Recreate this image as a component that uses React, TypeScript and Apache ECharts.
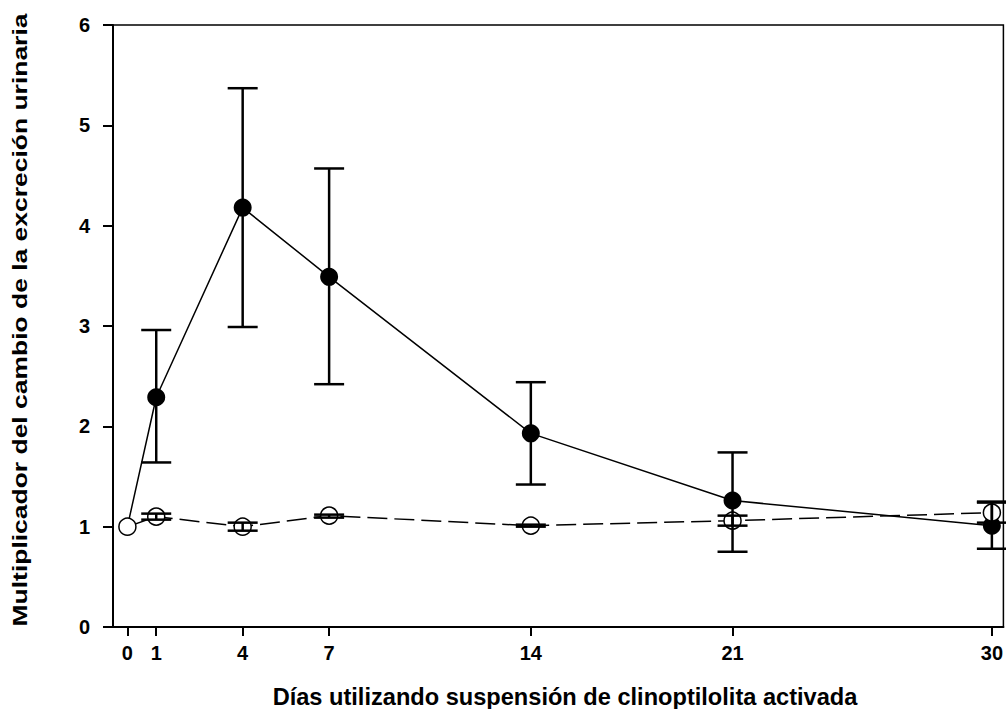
import React, { useEffect, useRef } from "react";
import * as echarts from "echarts";

const days = [0, 1, 4, 7, 14, 21, 30];
const treatedMean = [1.0, 2.29, 4.18, 3.49, 1.93, 1.26, 1.01];
const treatedLow = [1.0, 1.64, 2.99, 2.42, 1.42, 0.75, 0.78];
const treatedHigh = [1.0, 2.96, 5.37, 4.57, 2.44, 1.74, 1.25];
const controlMean = [1.0, 1.1, 1.0, 1.11, 1.01, 1.06, 1.14];
const controlLow = [1.0, 1.07, 0.96, 1.09, 1.0, 1.01, 1.04];
const controlHigh = [1.0, 1.13, 1.04, 1.12, 1.02, 1.11, 1.24];
const xTicks = [0, 1, 4, 7, 14, 21, 30];
const xTitle = "Días utilizando suspensión de clinoptilolita activada";
const yTitle = "Multiplicador del cambio de la excreción urinaria";

const FONT = "'Liberation Sans', Arial, sans-serif";

function errRender(params: any, api: any) {
  const x = api.value(0);
  const lo = api.coord([x, api.value(1)]);
  const hi = api.coord([x, api.value(2)]);
  if (Math.abs(lo[1] - hi[1]) < 0.5) return { type: "group", children: [] };
  const hw = 15;
  const style = { stroke: "#000", lineWidth: 2.5 };
  return {
    type: "group",
    children: [
      { type: "line", shape: { x1: lo[0], y1: lo[1], x2: hi[0], y2: hi[1] }, style },
      { type: "line", shape: { x1: lo[0] - hw, y1: lo[1], x2: lo[0] + hw, y2: lo[1] }, style },
      { type: "line", shape: { x1: hi[0] - hw, y1: hi[1], x2: hi[0] + hw, y2: hi[1] }, style },
    ],
  };
}

export default function App() {
  const ref = useRef<HTMLDivElement>(null);
  useEffect(() => {
    const chart = echarts.init(ref.current!, null, { renderer: "svg" });
    const treatedData = days.map((d, i) =>
      i === 0 ? { value: [d, treatedMean[i]], symbolSize: 0 } : [d, treatedMean[i]]
    );
    chart.setOption({
      animation: false,
      backgroundColor: "#fff",
      grid: {
        left: 113,
        right: 2,
        top: 25,
        bottom: 82,
        show: true,
        borderColor: "#000",
        borderWidth: 1.5,
        backgroundColor: "transparent",
      },
      graphic: [
        {
          type: "text",
          x: 565,
          y: 697,
          style: {
            text: xTitle,
            fontFamily: FONT,
            fontWeight: "bold",
            fontSize: 23.6,
            fill: "#000",
            align: "center",
            verticalAlign: "middle",
          },
        },
        {
          type: "text",
          x: 20,
          y: 320,
          rotation: Math.PI / 2,
          scaleX: 1.26,
          style: {
            text: yTitle,
            fontFamily: FONT,
            fontWeight: "bold",
            fontSize: 21,
            fill: "#000",
            align: "center",
            verticalAlign: "middle",
          },
        },
      ],
      xAxis: {
        type: "value",
        min: -0.5,
        max: 30.4,
        axisLine: { show: true, onZero: false, lineStyle: { color: "#000", width: 2 } },
        axisTick: { show: true, customValues: xTicks, length: 9, inside: false, lineStyle: { color: "#000", width: 2 } },
        axisLabel: { customValues: xTicks, fontFamily: FONT, fontSize: 20, fontWeight: "bold", color: "#000", margin: 16 },
        splitLine: { show: false },
      },
      yAxis: {
        type: "value",
        min: 0,
        max: 6,
        interval: 1,
        axisLine: { show: true, onZero: false, lineStyle: { color: "#000", width: 2 } },
        axisTick: { show: true, length: 10, lineStyle: { color: "#000", width: 2 } },
        axisLabel: { fontFamily: FONT, fontSize: 20, fontWeight: "bold", color: "#000", margin: 23 },
        splitLine: { show: false },
      },
      series: [
        {
          type: "line",
          name: "treated",
          data: treatedData,
          symbol: "circle",
          symbolSize: 18,
          itemStyle: { color: "#000" },
          lineStyle: { color: "#000", width: 1.5 },
          z: 2,
        },
        {
          type: "line",
          name: "control",
          data: days.map((d, i) => [d, controlMean[i]]),
          symbol: "circle",
          symbolSize: 17,
          itemStyle: { color: "#fff", borderColor: "#000", borderWidth: 1.5 },
          lineStyle: { color: "#000", width: 1.5, type: [20, 7] },
          z: 3,
        },
        {
          type: "custom",
          name: "treatedErr",
          renderItem: errRender,
          data: days.map((d, i) => [d, treatedLow[i], treatedHigh[i]]),
          encode: { x: 0, y: [1, 2] },
          z: 4,
        },
        {
          type: "custom",
          name: "controlErr",
          renderItem: errRender,
          data: days.map((d, i) => [d, controlLow[i], controlHigh[i]]),
          encode: { x: 0, y: [1, 2] },
          z: 4,
        },
      ],
    });
    return () => chart.dispose();
  }, []);
  return <div ref={ref} style={{ width: 1006, height: 709, position: "absolute", left: 0, top: 0 }} />;
}
